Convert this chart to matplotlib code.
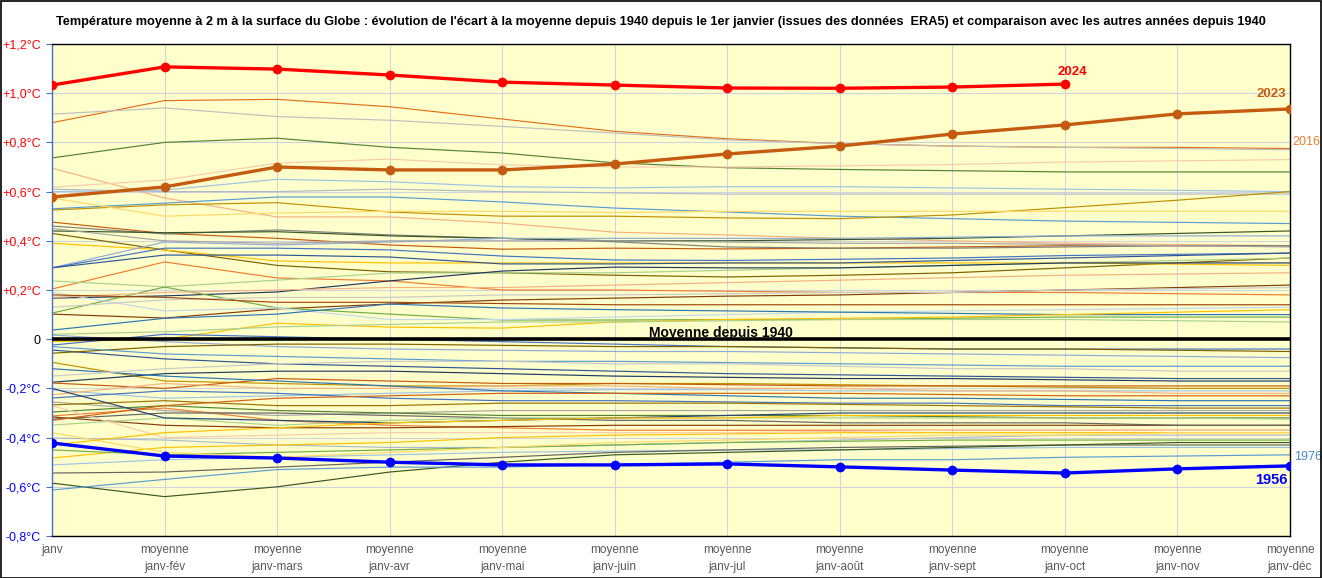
import matplotlib
matplotlib.use("Agg")
import matplotlib.pyplot as plt
from matplotlib.patches import Rectangle

plt.rcParams["font.family"] = ["Liberation Sans", "DejaVu Sans"]

categories = ["janv", "moyenne\njanv-fév", "moyenne\njanv-mars", "moyenne\njanv-avr",
              "moyenne\njanv-mai", "moyenne\njanv-juin", "moyenne\njanv-jul",
              "moyenne\njanv-août", "moyenne\njanv-sept", "moyenne\njanv-oct",
              "moyenne\njanv-nov", "moyenne\njanv-déc"]

annee_2024 = [1.033, 1.107, 1.098, 1.074, 1.045, 1.033, 1.021, 1.020, 1.025, 1.037]
annee_2023 = [0.578, 0.619, 0.700, 0.688, 0.688, 0.712, 0.753, 0.785, 0.834, 0.871, 0.916, 0.936]
annee_1956 = [-0.422, -0.475, -0.483, -0.500, -0.511, -0.511, -0.507, -0.519, -0.532, -0.544, -0.527, -0.515]
moyenne_1940 = [0.0] * 12

y_ticks = [-0.8, -0.6, -0.4, -0.2, 0.0, 0.2, 0.4, 0.6, 0.8, 1.0, 1.2]
y_labels = ["-0,8°C", "-0,6°C", "-0,4°C", "-0,2°C", "0", "+0,2°C", "+0,4°C",
            "+0,6°C", "+0,8°C", "+1,0°C", "+1,2°C"]

autres_annees = [
    [0.880, 0.970, 0.975, 0.945, 0.895, 0.845, 0.815, 0.795, 0.785, 0.780, 0.780, 0.775],
    [0.915, 0.940, 0.905, 0.890, 0.865, 0.838, 0.810, 0.795, 0.785, 0.780, 0.775, 0.770],
    [0.737, 0.800, 0.817, 0.780, 0.757, 0.717, 0.697, 0.690, 0.685, 0.680, 0.680, 0.680],
    [0.695, 0.574, 0.497, 0.497, 0.472, 0.435, 0.424, 0.410, 0.400, 0.390, 0.385, 0.380],
    [0.618, 0.647, 0.716, 0.732, 0.709, 0.700, 0.700, 0.705, 0.710, 0.720, 0.725, 0.730],
    [0.600, 0.606, 0.650, 0.640, 0.620, 0.615, 0.620, 0.620, 0.615, 0.610, 0.605, 0.600],
    [0.610, 0.600, 0.600, 0.610, 0.600, 0.595, 0.590, 0.590, 0.590, 0.590, 0.590, 0.590],
    [0.530, 0.553, 0.578, 0.578, 0.558, 0.533, 0.517, 0.500, 0.490, 0.480, 0.475, 0.470],
    [0.525, 0.546, 0.555, 0.517, 0.500, 0.500, 0.493, 0.490, 0.505, 0.535, 0.565, 0.600],
    [0.574, 0.500, 0.513, 0.520, 0.520, 0.515, 0.520, 0.520, 0.520, 0.520, 0.520, 0.520],
    [0.476, 0.430, 0.410, 0.383, 0.366, 0.370, 0.367, 0.370, 0.375, 0.380, 0.380, 0.380],
    [0.460, 0.428, 0.444, 0.424, 0.410, 0.396, 0.375, 0.370, 0.370, 0.375, 0.380, 0.380],
    [0.440, 0.433, 0.437, 0.420, 0.410, 0.400, 0.400, 0.405, 0.410, 0.420, 0.430, 0.440],
    [0.430, 0.363, 0.300, 0.274, 0.270, 0.260, 0.253, 0.260, 0.270, 0.290, 0.310, 0.330],
    [0.390, 0.363, 0.318, 0.310, 0.310, 0.310, 0.310, 0.310, 0.310, 0.310, 0.305, 0.300],
    [0.290, 0.395, 0.383, 0.395, 0.410, 0.410, 0.410, 0.410, 0.415, 0.420, 0.420, 0.420],
    [0.290, 0.370, 0.370, 0.363, 0.338, 0.322, 0.320, 0.325, 0.330, 0.340, 0.345, 0.350],
    [0.290, 0.342, 0.342, 0.334, 0.306, 0.306, 0.310, 0.310, 0.320, 0.330, 0.340, 0.350],
    [0.204, 0.314, 0.249, 0.237, 0.200, 0.200, 0.195, 0.190, 0.190, 0.190, 0.185, 0.180],
    [0.237, 0.213, 0.240, 0.269, 0.270, 0.270, 0.280, 0.290, 0.300, 0.310, 0.320, 0.330],
    [0.167, 0.176, 0.192, 0.237, 0.277, 0.293, 0.290, 0.290, 0.300, 0.310, 0.310, 0.310],
    [0.102, 0.086, 0.123, 0.143, 0.159, 0.167, 0.175, 0.180, 0.190, 0.200, 0.210, 0.220],
    [0.106, 0.212, 0.127, 0.102, 0.078, 0.078, 0.080, 0.080, 0.085, 0.090, 0.090, 0.090],
    [0.190, 0.115, 0.127, 0.080, 0.080, 0.090, 0.100, 0.110, 0.115, 0.120, 0.125, 0.130],
    [0.037, 0.085, 0.102, 0.143, 0.127, 0.120, 0.115, 0.110, 0.105, 0.100, 0.100, 0.100],
    [-0.010, 0.000, 0.065, 0.049, 0.045, 0.070, 0.080, 0.085, 0.090, 0.100, 0.110, 0.120],
    [0.450, 0.400, 0.390, 0.400, 0.400, 0.400, 0.395, 0.390, 0.390, 0.385, 0.380, 0.375],
    [0.170, 0.190, 0.200, 0.210, 0.210, 0.220, 0.230, 0.240, 0.250, 0.260, 0.265, 0.270],
    [0.130, 0.160, 0.170, 0.170, 0.180, 0.180, 0.185, 0.190, 0.190, 0.200, 0.205, 0.210],
    [0.020, 0.030, 0.050, 0.060, 0.070, 0.070, 0.075, 0.080, 0.080, 0.080, 0.075, 0.070],
    [0.180, 0.170, 0.150, 0.150, 0.145, 0.140, 0.140, 0.140, 0.140, 0.140, 0.140, 0.140],
    [0.017, -0.010, -0.030, -0.040, -0.045, -0.050, -0.050, -0.055, -0.060, -0.065, -0.070, -0.075],
    [-0.024, 0.020, 0.010, 0.000, -0.010, -0.020, -0.030, -0.035, -0.040, -0.040, -0.040, -0.040],
    [-0.044, -0.080, -0.100, -0.110, -0.120, -0.130, -0.140, -0.145, -0.150, -0.155, -0.160, -0.160],
    [-0.057, -0.030, -0.020, -0.020, -0.025, -0.030, -0.030, -0.035, -0.040, -0.040, -0.045, -0.050],
    [-0.094, -0.170, -0.180, -0.190, -0.190, -0.180, -0.180, -0.185, -0.190, -0.195, -0.200, -0.200],
    [-0.030, -0.060, -0.070, -0.080, -0.090, -0.090, -0.095, -0.100, -0.105, -0.110, -0.110, -0.110],
    [-0.175, -0.140, -0.130, -0.130, -0.140, -0.150, -0.155, -0.160, -0.160, -0.165, -0.170, -0.170],
    [-0.178, -0.200, -0.160, -0.170, -0.180, -0.180, -0.185, -0.190, -0.190, -0.190, -0.190, -0.190],
    [-0.206, -0.240, -0.230, -0.220, -0.210, -0.205, -0.205, -0.210, -0.210, -0.210, -0.210, -0.210],
    [-0.226, -0.180, -0.200, -0.200, -0.190, -0.190, -0.200, -0.200, -0.210, -0.210, -0.220, -0.220],
    [-0.239, -0.210, -0.220, -0.240, -0.250, -0.250, -0.255, -0.260, -0.260, -0.270, -0.270, -0.270],
    [-0.255, -0.290, -0.310, -0.300, -0.290, -0.290, -0.290, -0.290, -0.290, -0.290, -0.290, -0.290],
    [-0.267, -0.250, -0.270, -0.270, -0.260, -0.260, -0.260, -0.265, -0.270, -0.275, -0.280, -0.280],
    [-0.296, -0.270, -0.290, -0.300, -0.310, -0.310, -0.310, -0.310, -0.315, -0.320, -0.320, -0.320],
    [-0.312, -0.280, -0.330, -0.350, -0.360, -0.370, -0.370, -0.370, -0.370, -0.370, -0.370, -0.370],
    [-0.316, -0.350, -0.360, -0.360, -0.355, -0.350, -0.350, -0.350, -0.350, -0.350, -0.350, -0.350],
    [-0.325, -0.300, -0.300, -0.310, -0.320, -0.330, -0.330, -0.340, -0.340, -0.340, -0.350, -0.350],
    [-0.349, -0.320, -0.350, -0.330, -0.320, -0.320, -0.320, -0.320, -0.320, -0.320, -0.320, -0.325],
    [-0.402, -0.410, -0.430, -0.440, -0.440, -0.430, -0.420, -0.410, -0.400, -0.390, -0.390, -0.390],
    [-0.483, -0.440, -0.430, -0.420, -0.400, -0.390, -0.385, -0.380, -0.380, -0.380, -0.380, -0.380],
    [-0.511, -0.490, -0.480, -0.470, -0.460, -0.455, -0.450, -0.450, -0.445, -0.440, -0.440, -0.440],
    [-0.544, -0.540, -0.520, -0.500, -0.480, -0.460, -0.450, -0.440, -0.435, -0.430, -0.430, -0.430],
    [-0.585, -0.640, -0.600, -0.540, -0.500, -0.470, -0.460, -0.450, -0.440, -0.430, -0.420, -0.420],
    [-0.613, -0.570, -0.530, -0.520, -0.520, -0.510, -0.500, -0.490, -0.490, -0.480, -0.475, -0.470],
    [-0.450, -0.470, -0.460, -0.450, -0.440, -0.430, -0.420, -0.415, -0.410, -0.410, -0.410, -0.410],
    [-0.380, -0.460, -0.480, -0.460, -0.440, -0.420, -0.410, -0.400, -0.390, -0.390, -0.380, -0.380],
    [-0.270, -0.400, -0.390, -0.380, -0.380, -0.380, -0.380, -0.375, -0.370, -0.370, -0.370, -0.370],
    [-0.120, -0.150, -0.170, -0.190, -0.210, -0.220, -0.230, -0.240, -0.240, -0.245, -0.250, -0.250],
    [-0.150, -0.120, -0.100, -0.090, -0.090, -0.100, -0.100, -0.110, -0.120, -0.120, -0.130, -0.130],
    [-0.330, -0.270, -0.240, -0.230, -0.220, -0.220, -0.220, -0.220, -0.225, -0.230, -0.230, -0.230],
    [-0.200, -0.320, -0.330, -0.340, -0.330, -0.320, -0.310, -0.300, -0.300, -0.300, -0.300, -0.300],
    [-0.430, -0.380, -0.360, -0.340, -0.330, -0.320, -0.320, -0.310, -0.310, -0.310, -0.310, -0.310],
]
couleurs_autres = [
    "#E2701F", "#BFBFBF", "#548235", "#F4B183", "#F8CBAD", "#9DC3E6", "#ADB9CA",
    "#5B9BD5", "#BF9000", "#FFD966", "#C55A11", "#7F7F7F", "#385723", "#7F6000",
    "#FFC000", "#8FAADC", "#4472C4", "#2F5597", "#ED7D31", "#A9D18E", "#203864",
    "#843C0C", "#70AD47", "#BDD7EE", "#2E75B6", "#FFC000", "#A5A5A5", "#F4B183",
    "#C9C9C9", "#A9D18E", "#9E480E", "#8FAADC", "#4472C4", "#2F5597", "#7F6000",
    "#BF9000", "#5B9BD5", "#203864", "#C55A11", "#9DC3E6", "#F4B183", "#4472C4",
    "#A5A5A5", "#997300", "#548235", "#ED7D31", "#843C0C", "#636363", "#A9D18E",
    "#ADB9CA", "#FFC000", "#9DC3E6", "#636363", "#385723", "#5B9BD5", "#70AD47",
    "#FFD966", "#F8CBAD", "#2E75B6", "#C9C9C9", "#D26012", "#264478", "#FFC000",
]

W, H = 1322, 578
fig = plt.figure(figsize=(W / 100, H / 100), dpi=100)
fig.patch.set_facecolor("white")
ax = fig.add_axes([52 / W, (H - 536) / H, (1290 - 52) / W, 492 / H])
ax.set_facecolor("#FFFFCC")

x = list(range(len(categories)))

for serie, c in zip(autres_annees, couleurs_autres):
    ax.plot(x, serie, color=c, lw=0.85, zorder=2, solid_joinstyle="round")

ax.plot(x, moyenne_1940, color="black", lw=2.6, zorder=3)
ax.plot(x, annee_1956, color="#0000FF", lw=2.4, marker="o", ms=6, zorder=4)
ax.plot(x, annee_2023, color="#C55A11", lw=2.4, marker="o", ms=6, zorder=4)
ax.plot(x[:len(annee_2024)], annee_2024, color="#FF0000", lw=2.4, marker="o", ms=6, zorder=5)

ax.set_xlim(0, len(categories) - 1)
ax.set_ylim(-0.8, 1.2)
ax.set_xticks(x)
ax.set_xticklabels(categories, fontsize=8.5, color="#595959", linespacing=1.55)
ax.set_yticks(y_ticks)
ax.set_yticklabels(y_labels, fontsize=9)
for lbl, v in zip(ax.get_yticklabels(), y_ticks):
    lbl.set_color("#FF0000" if v > 0 else ("#000000" if v == 0 else "#0000FF"))

ax.grid(True, color="#D0D4DC", lw=0.8, zorder=1)
ax.set_axisbelow(True)
ax.tick_params(axis="x", length=0, pad=6)
ax.tick_params(axis="y", length=4, color="#4472C4", direction="out", pad=4)
for s in ["top", "right", "bottom"]:
    ax.spines[s].set_color("black")
    ax.spines[s].set_linewidth(1.0)
ax.spines["left"].set_color("#4472C4")
ax.spines["left"].set_linewidth(1.0)

ax.text(9.07, 1.086, "2024", color="#FF0000", fontsize=9.5, fontweight="bold", ha="center", va="center")
ax.text(10.83, 0.997, "2023", color="#C55A11", fontsize=9.5, fontweight="bold", ha="center", va="center")
ax.text(11.02, 0.80, "2016", color="#ED7D31", fontsize=9, ha="left", va="center", clip_on=False)
ax.text(11.04, -0.48, "1976", color="#4A86C5", fontsize=9, ha="left", va="center", clip_on=False)
ax.text(10.83, -0.572, "1956", color="#0000FF", fontsize=10.5, fontweight="bold", ha="center", va="center")
ax.text(5.94, 0.025, "Moyenne depuis 1940", color="black", fontsize=10, fontweight="bold", ha="center", va="center", zorder=6)

fig.text(0.5, 1 - 22 / H,
         "Température moyenne à 2 m à la surface du Globe : évolution de l'écart à la moyenne depuis 1940 depuis le 1er janvier (issues des données  ERA5) et comparaison avec les autres années depuis 1940",
         ha="center", va="center", fontsize=9.2, fontweight="bold", color="black")

fig.patches.append(Rectangle((0.5 / W, 0.5 / H), 1 - 1.5 / W, 1 - 1.5 / H, transform=fig.transFigure,
                             fill=False, edgecolor="black", lw=1.2))

fig.savefig("out.png", dpi=100)
